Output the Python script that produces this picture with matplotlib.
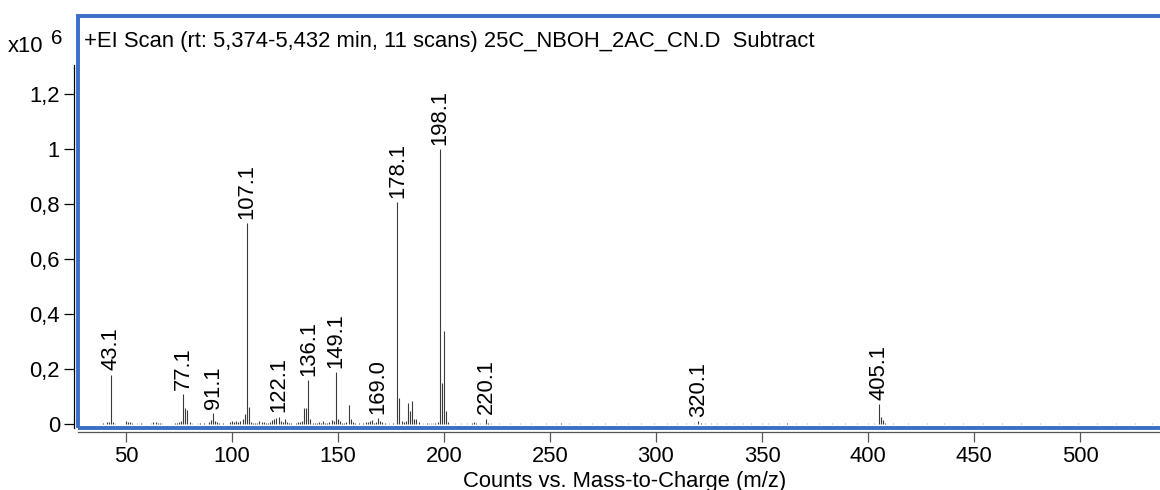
import matplotlib
matplotlib.use("Agg")
import matplotlib.pyplot as plt
from matplotlib.patches import Rectangle
from matplotlib.ticker import FuncFormatter

plt.rcParams['font.family'] = ['Liberation Sans', 'DejaVu Sans']

# ---- data (m/z, intensity in units of 1e6 counts) ----
mz = [39, 41, 42, 43, 44, 45, 50, 51, 52, 53, 55, 57, 62, 63, 64, 65, 66, 67,
      73, 74, 75, 76, 77, 78, 79, 80, 81, 84, 85, 87, 89, 90, 91, 92, 93, 94,
      96, 99, 100, 101, 102, 103, 104, 105, 106, 107, 108, 109, 110, 111, 112,
      113, 114, 115, 116, 117, 118, 119, 120, 121, 122, 123, 124, 125, 126, 127,
      128, 130, 131, 132, 133, 134, 135, 136, 137, 138, 139, 140, 141, 142, 143,
      144, 145, 146, 147, 148, 149, 150, 151, 152, 153, 154, 155, 156, 157, 158,
      160, 162, 163, 164, 165, 166, 167, 168, 169, 170, 171, 172, 174, 176,
      178, 179, 180, 181, 182, 183, 184, 185, 186, 187, 188, 190, 192, 193, 194,
      195, 196, 197, 198, 199, 200, 201, 202, 205, 208, 211, 213, 214, 215, 217,
      220, 221, 222, 226, 231, 236, 241, 248, 253, 255, 259, 264, 270, 276, 281,
      287, 293, 299, 305, 310, 314, 318, 320, 321, 323, 326, 329, 333, 337, 341,
      345, 350, 353, 358, 362, 366, 371, 377, 383, 389, 395, 400, 403, 405, 406,
      407, 408, 412, 419, 428, 436, 445, 454, 463, 472, 481, 490, 499, 508, 517,
      526, 534]
intensity = [0.004, 0.006, 0.008, 0.180, 0.007, 0.003, 0.010, 0.008, 0.006, 0.005,
             0.003, 0.004, 0.003, 0.006, 0.008, 0.005, 0.004, 0.003,
             0.004, 0.005, 0.006, 0.010, 0.110, 0.058, 0.050, 0.006, 0.003,
             0.003, 0.004, 0.004, 0.009, 0.015, 0.040, 0.010, 0.006, 0.004,
             0.004, 0.006, 0.012, 0.008, 0.010, 0.008, 0.012, 0.020, 0.035, 0.732,
             0.063, 0.006, 0.005, 0.004, 0.004, 0.010, 0.006, 0.008, 0.005, 0.004,
             0.006, 0.015, 0.018, 0.022, 0.027, 0.012, 0.006, 0.020, 0.006, 0.004,
             0.004, 0.005, 0.006, 0.008, 0.010, 0.060, 0.058, 0.160, 0.020, 0.005,
             0.004, 0.005, 0.008, 0.004, 0.012, 0.005, 0.004, 0.008, 0.015, 0.012,
             0.190, 0.018, 0.010, 0.004, 0.005, 0.008, 0.070, 0.020, 0.006, 0.004,
             0.004, 0.005, 0.006, 0.008, 0.012, 0.014, 0.005, 0.006, 0.023, 0.012,
             0.008, 0.004, 0.003, 0.004,
             0.808, 0.096, 0.012, 0.006, 0.010, 0.076, 0.047, 0.083, 0.020, 0.018,
             0.006, 0.003, 0.004, 0.003, 0.003, 0.003, 0.004, 0.006, 1.000, 0.149,
             0.339, 0.047, 0.008, 0.003, 0.003, 0.003, 0.004, 0.008, 0.004, 0.003,
             0.020, 0.005, 0.003, 0.002, 0.002, 0.002, 0.003, 0.002, 0.003, 0.004,
             0.002, 0.002, 0.002, 0.002, 0.003, 0.002, 0.002, 0.002, 0.002, 0.002,
             0.002, 0.002, 0.012, 0.004, 0.003, 0.003, 0.003, 0.002, 0.003, 0.002,
             0.002, 0.002, 0.002, 0.002, 0.005, 0.002, 0.002, 0.002, 0.002, 0.002,
             0.002, 0.002, 0.003, 0.073, 0.025, 0.015, 0.005, 0.002, 0.002, 0.002,
             0.002, 0.002, 0.002, 0.002, 0.002, 0.002, 0.002, 0.002, 0.002, 0.002,
             0.002, 0.002]

label_mz = [43.1, 77.1, 91.1, 107.1, 122.1, 136.1, 149.1, 169.0, 178.1, 198.1,
            220.1, 320.1, 405.1]
label_int = [0.180, 0.110, 0.040, 0.732, 0.027, 0.160, 0.190, 0.023, 0.808, 1.000,
             0.020, 0.012, 0.073]
label_txt = ["43.1", "77.1", "91.1", "107.1", "122.1", "136.1", "149.1", "169.0",
             "178.1", "198.1", "220.1", "320.1", "405.1"]

x_ticks = [50, 100, 150, 200, 250, 300, 350, 400, 450, 500]
y_ticks = [0, 0.2, 0.4, 0.6, 0.8, 1.0, 1.2]

title = "+EI Scan (rt: 5,374-5,432 min, 11 scans) 25C_NBOH_2AC_CN.D  Subtract"
xlabel = "Counts vs. Mass-to-Charge (m/z)"

FS = 15.8

# ---- figure ----
W, H = 1160, 490
fig = plt.figure(figsize=(W / 100, H / 100), dpi=100)

def fx(px):
    return px / W

def fy(py):
    return (H - py) / H

ax_left, ax_right, ax_top, ax_bot = 78, 1160, 65, 428
ax = fig.add_axes([fx(ax_left), fy(ax_bot), fx(ax_right - ax_left), (ax_bot - ax_top) / H])
ax.set_xlim(27.4, 537.7)
ax.set_ylim(-0.0145, 1.3055)
ax.patch.set_alpha(0)

line_colors = ['#3a3a3a' if v > 0.0035 else '#b0b0b0' for v in intensity]
ax.vlines(mz, 0, intensity, colors=line_colors, linewidth=0.8)

for m, v, t in zip(label_mz, label_int, label_txt):
    ax.annotate(t, xy=(m, v), xytext=(0, 3), textcoords='offset points',
                rotation=90, ha='center', va='bottom', fontsize=FS, color='black')

for s in ['top', 'right']:
    ax.spines[s].set_visible(False)
ax.spines['left'].set_position(('outward', 3))
ax.spines['left'].set_color('black')
ax.spines['left'].set_linewidth(0.9)
ax.spines['bottom'].set_position(('outward', 3))
ax.spines['bottom'].set_color('#555555')
ax.spines['bottom'].set_linewidth(0.9)

ax.set_xticks(x_ticks)
ax.set_yticks(y_ticks)

def yfmt(v, pos):
    s = ('%.1f' % v).rstrip('0').rstrip('.')
    return s.replace('.', ',')

ax.yaxis.set_major_formatter(FuncFormatter(yfmt))
ax.tick_params(axis='both', labelsize=FS, length=7, width=0.9, pad=3, colors='black')
ax.tick_params(axis='x', color='#555555')

# blue frame
fig.add_artist(Rectangle((fx(78), fy(428)), fx(1200 - 78), (428 - 16) / H,
                         transform=fig.transFigure, fill=False,
                         edgecolor='#3a6fc6', linewidth=2.8, clip_on=False))

fig.text(fx(84), fy(42), title, fontsize=FS, ha='left', va='center')
fig.text(fx(8), fy(46), "x10", fontsize=FS, ha='left', va='center')
fig.text(fx(51), fy(38), "6", fontsize=FS - 1, ha='left', va='center')
fig.text(fx(625), fy(481), xlabel, fontsize=FS, ha='center', va='center')

fig.savefig("out.png", dpi=100)
